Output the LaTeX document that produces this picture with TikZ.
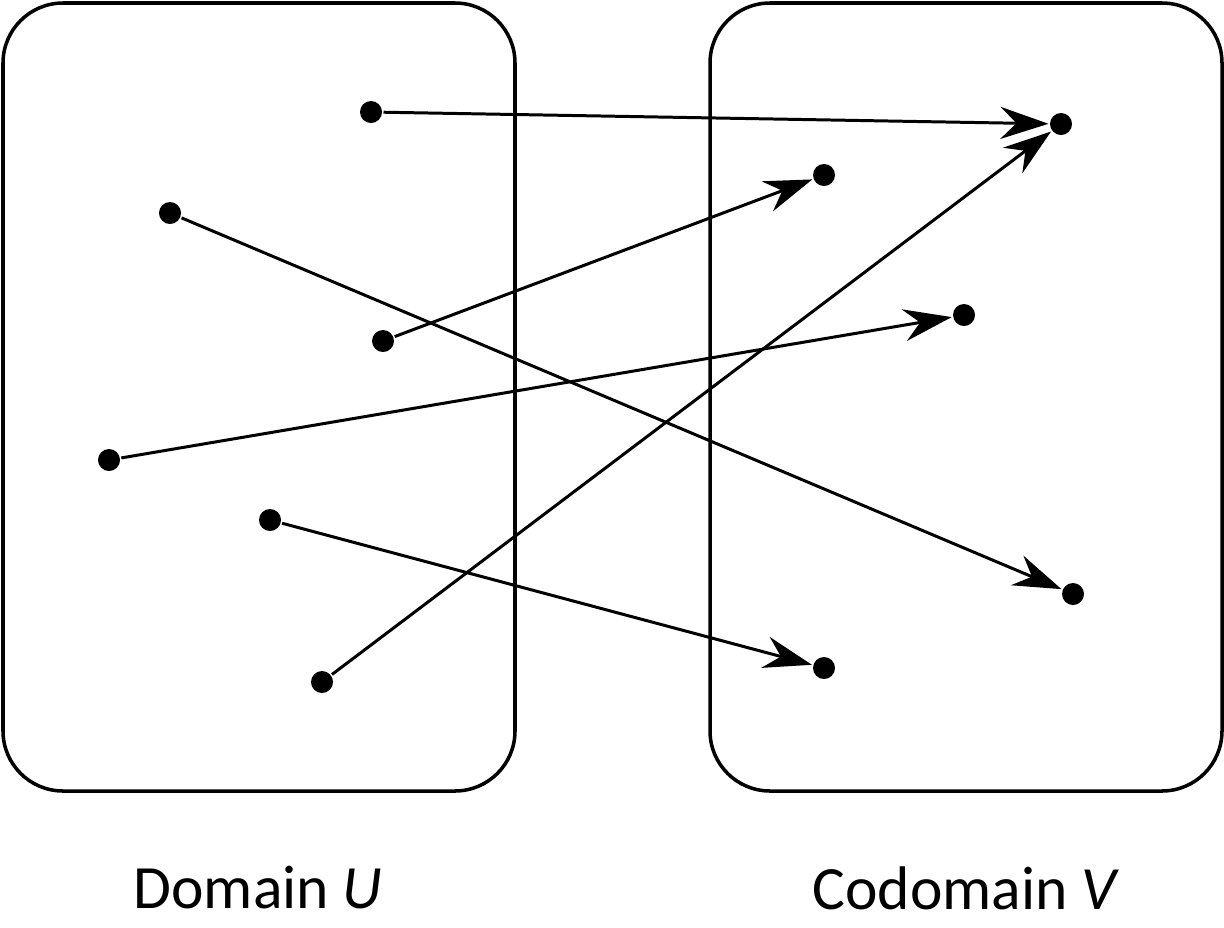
\documentclass[tikz,border=0pt]{standalone}
\usepackage{fontspec}
\setmainfont{Carlito}
\usetikzlibrary{arrows.meta}

\begin{document}
\begin{tikzpicture}[x=0.01cm,y=-0.01cm,>=Stealth,line width=0.85pt,
    pt/.style={circle,fill=black,inner sep=0pt,minimum size=0.22cm},
    mapto/.style={->,>={Stealth[length=4.8mm,width=3.2mm,inset=1.6mm]}},
    setbox/.style={rounded corners=0.6cm,line width=1pt},
    lbl/.style={font=\fontsize{17.5}{20}\selectfont}]
    \useasboundingbox (0,0) rectangle (1224,927);
    % the two sets
    \draw[setbox] (3,3) rectangle (515,791);
    \draw[setbox] (710,3) rectangle (1222,791);
    \node[lbl] (domlbl) at (258,888) {Domain \textit{U}};
    \node[lbl] (codlbl) at (966,888) {Codomain \textit{V}};
    % domain points
    \node[pt] (u1) at (371,112) {};
    \node[pt] (u2) at (170,213) {};
    \node[pt] (u3) at (383,341) {};
    \node[pt] (u4) at (109,460) {};
    \node[pt] (u5) at (270,520) {};
    \node[pt] (u6) at (322,682) {};
    % codomain points
    \node[pt] (v1) at (1061,124) {};
    \node[pt] (v2) at (824,175) {};
    \node[pt] (v3) at (964,315) {};
    \node[pt] (v4) at (1073,594) {};
    \node[pt] (v5) at (824,668) {};
    % mapping
    \draw[mapto] (u1) -- (v1);
    \draw[mapto] (u2) -- (v4);
    \draw[mapto] (u3) -- (v2);
    \draw[mapto] (u4) -- (v3);
    \draw[mapto] (u5) -- (v5);
    \draw[mapto] (u6) -- (v1);
\end{tikzpicture}
\end{document}
